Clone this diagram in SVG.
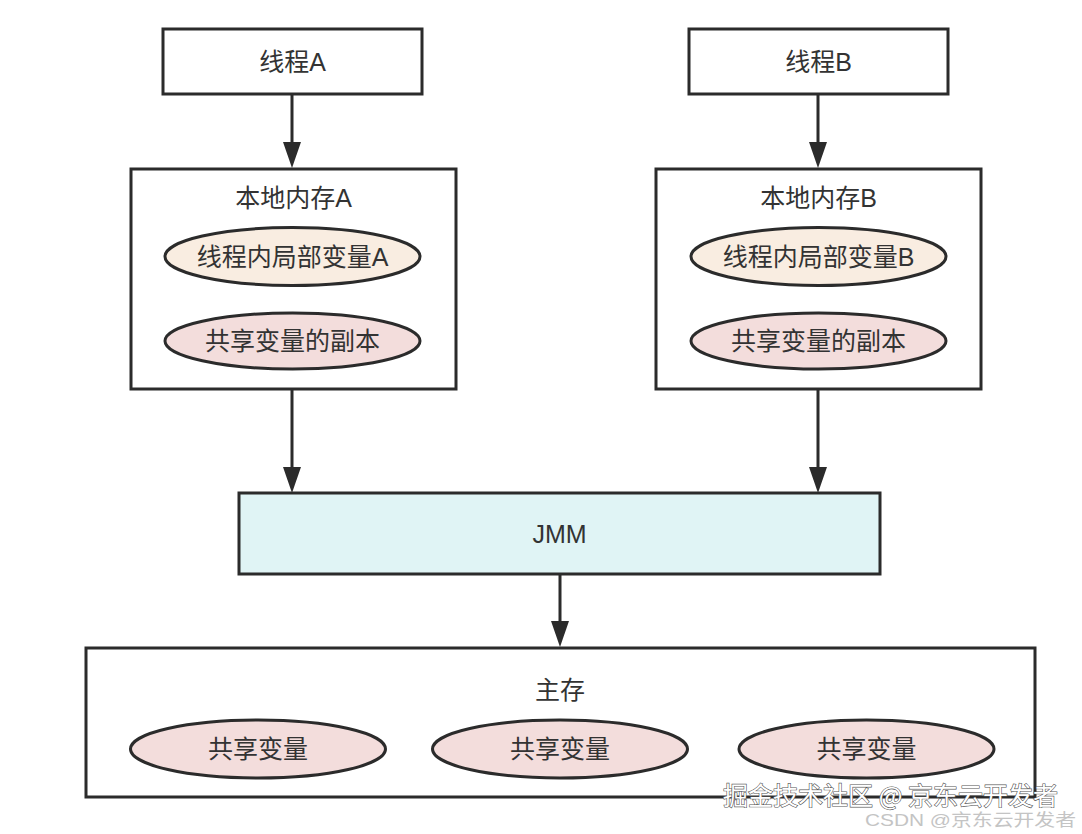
<svg xmlns="http://www.w3.org/2000/svg" width="1082" height="834" viewBox="0 0 1082 834">
<style>
.box{fill:#fff;stroke:#2b2b2b;stroke-width:3}
.jmm{fill:#e0f4f5;stroke:#2b2b2b;stroke-width:3}
.el1{fill:#f9ede1;stroke:#2b2b2b;stroke-width:3}
.el2{fill:#f3dddc;stroke:#2b2b2b;stroke-width:3}
.t{font-family:"Liberation Sans","Noto Sans CJK SC",sans-serif;font-size:25px;fill:#333;text-anchor:middle;dominant-baseline:central}
.c{stroke:#2b2b2b;stroke-width:3;fill:none}
.ah{fill:#2b2b2b}
.wm{font-family:"Noto Sans CJK SC",sans-serif;font-size:25px;fill:#fff;stroke:#555;stroke-width:1.2;paint-order:stroke}
.wm2{font-family:"Liberation Sans","Noto Sans CJK SC",sans-serif;font-size:17px;fill:#c4c4c4}
</style>
<defs>
<path id="head" class="ah" d="M-9,-26 L9,-26 L0,0 Z"/>
</defs>
<rect width="1082" height="834" fill="#fff"/>
<g id="connectors">
<line class="c" x1="292" y1="94" x2="292" y2="145"/>
<use href="#head" x="292" y="168"/>
<line class="c" x1="818" y1="94" x2="818" y2="145"/>
<use href="#head" x="818" y="168"/>
<line class="c" x1="292" y1="390" x2="292" y2="470"/>
<use href="#head" x="292" y="493"/>
<line class="c" x1="818" y1="390" x2="818" y2="470"/>
<use href="#head" x="818" y="493"/>
<line class="c" x1="560" y1="574" x2="560" y2="624"/>
<use href="#head" x="560" y="647"/>
</g>
<g id="threadA">
<rect class="box" x="163" y="29" width="259" height="65"/>
<text class="t" x="292.5" y="62">线程A</text>
</g>
<g id="threadB">
<rect class="box" x="689" y="29" width="259" height="65"/>
<text class="t" x="818.5" y="62">线程B</text>
</g>
<g id="localA">
<rect class="box" x="131" y="169" width="325" height="220"/>
<text class="t" x="293.5" y="198">本地内存A</text>
<ellipse class="el1" cx="292.5" cy="256.5" rx="127.5" ry="29"/>
<text class="t" x="292.5" y="257">线程内局部变量A</text>
<ellipse class="el2" cx="292.5" cy="341" rx="127.5" ry="28"/>
<text class="t" x="292.5" y="341">共享变量的副本</text>
</g>
<g id="localB">
<rect class="box" x="656" y="169" width="325" height="220"/>
<text class="t" x="818.5" y="198">本地内存B</text>
<ellipse class="el1" cx="818.5" cy="256.5" rx="127.5" ry="29"/>
<text class="t" x="818.5" y="257">线程内局部变量B</text>
<ellipse class="el2" cx="818.5" cy="341" rx="127.5" ry="28"/>
<text class="t" x="818.5" y="341">共享变量的副本</text>
</g>
<g id="jmm">
<rect class="jmm" x="239" y="493" width="641" height="81"/>
<text class="t" x="559.5" y="534">JMM</text>
</g>
<g id="main">
<rect class="box" x="86" y="648" width="949" height="149"/>
<text class="t" x="560" y="690">主存</text>
<ellipse class="el2" cx="258" cy="749" rx="127.5" ry="29"/>
<text class="t" x="258" y="749">共享变量</text>
<ellipse class="el2" cx="560" cy="749" rx="127.5" ry="29"/>
<text class="t" x="560" y="749">共享变量</text>
<ellipse class="el2" cx="866.5" cy="749" rx="127.5" ry="29"/>
<text class="t" x="866.5" y="749">共享变量</text>
</g>
<g id="watermark">
<text class="wm" x="723" y="805" textLength="335" lengthAdjust="spacingAndGlyphs">掘金技术社区 @ 京东云开发者</text>
<text class="wm2" x="865" y="826" textLength="211" lengthAdjust="spacingAndGlyphs">CSDN @京东云开发者</text>
</g>
</svg>
